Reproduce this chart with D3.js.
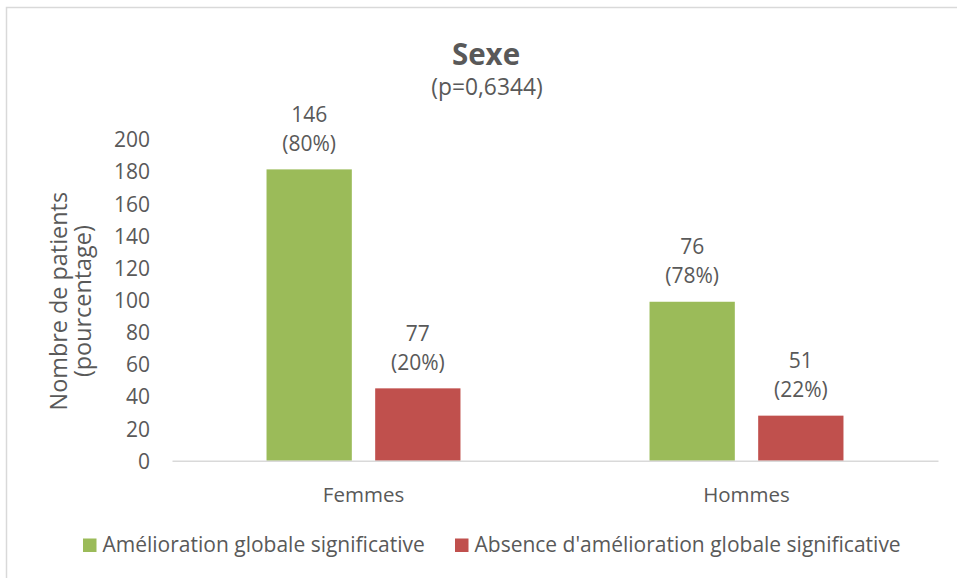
<!DOCTYPE html>
<html><head><meta charset="utf-8">
<script src="https://cdn.jsdelivr.net/npm/d3@7"></script>
<style>body{margin:0;background:#fff}svg{display:block}text{font-family:"Open Sans",sans-serif;fill:#595959}</style>
</head><body>
<svg id="c" width="957" height="578"></svg>
<script>
const categories = ["Femmes", "Hommes"];
const seriesNames = ["Amélioration globale significative", "Absence d'amélioration globale significative"];
const seriesColors = ["#9BBB59", "#C0504D"];
const barValues = [[181.4, 45.1], [99.0, 28.1]];
const countLabels = [["146", "77"], ["76", "51"]];
const pctLabels = [["(80%)", "(20%)"], ["(78%)", "(22%)"]];
const yTicks = [0, 20, 40, 60, 80, 100, 120, 140, 160, 180, 200];
const title = "Sexe";
const subtitle = "(p=0,6344)";
const yTitle = ["Nombre de patients", "(pourcentage)"];

const svg = d3.select("#c");
svg.append("rect").attr("x", 6.5).attr("y", 7.5).attr("width", 1000).attr("height", 1000)
  .attr("fill", "#fff").attr("stroke", "#D9D9D9").attr("stroke-width", 1.5);

const x0 = d3.scaleBand().domain(categories).range([172, 938]).padding(0);
const x1 = d3.scaleBand().domain([0, 1]).range([0, x0.bandwidth()]).paddingInner(0.215).paddingOuter(0.87);
const y = d3.scaleLinear().domain([0, 200]).range([460.8, 139.5]);

// y axis labels
const yAxis = d3.axisLeft(y).tickValues(yTicks).tickSize(0).tickPadding(0).tickFormat(d3.format("d"));
const ya = svg.append("g").attr("transform", "translate(150,0)").call(yAxis);
ya.select(".domain").remove();
ya.selectAll("text").style("font-size", "21px").attr("fill", "#595959").attr("dy", "0.35em");

// bars
categories.forEach((c, ci) => {
  const g = svg.append("g").attr("transform", `translate(${x0(c)},0)`);
  barValues[ci].forEach((v, si) => {
    const bx = x1(si), bw = x1.bandwidth(), top = y(v);
    g.append("rect").attr("x", bx).attr("y", top).attr("width", bw).attr("height", y(0) - top)
      .attr("fill", seriesColors[si]);
    g.append("text").attr("x", bx + bw / 2).attr("y", top - 47.5).attr("text-anchor", "middle")
      .style("font-size", "21px").text(countLabels[ci][si]);
    g.append("text").attr("x", bx + bw / 2).attr("y", top - 18.5).attr("text-anchor", "middle")
      .style("font-size", "21px").text(pctLabels[ci][si]);
  });
});

// x axis
const xAxis = d3.axisBottom(x0).tickSize(0).tickPadding(0);
const xa = svg.append("g").attr("transform", `translate(0,${y(0)})`).call(xAxis);
xa.select(".domain").attr("stroke", "#D9D9D9").attr("stroke-width", 1.5);
xa.selectAll("text").style("font-size", "20.5px").attr("fill", "#595959").attr("y", 41).attr("dy", 0);

// title
svg.append("text").attr("x", 486).attr("y", 65).attr("text-anchor", "middle")
  .style("font-size", "29.5px").style("font-weight", "bold").text(title);
svg.append("text").attr("x", 487).attr("y", 95).attr("text-anchor", "middle")
  .style("font-size", "22.8px").text(subtitle);

// y title
const yt = svg.append("text").attr("transform", `translate(0,${(y(0) + y(200)) / 2 + 1}) rotate(-90)`)
  .attr("text-anchor", "middle").style("font-size", "23.4px");
yt.append("tspan").attr("x", 0).attr("y", 66.7).text(yTitle[0]);
yt.append("tspan").attr("x", 0).attr("y", 91).text(yTitle[1]);

// legend
const legX = [83, 455];
seriesNames.forEach((n, i) => {
  svg.append("rect").attr("x", legX[i]).attr("y", 538.5).attr("width", 13.5).attr("height", 13.5).attr("fill", seriesColors[i]);
  svg.append("text").attr("x", legX[i] + 19.5).attr("y", 551.5).style("font-size", "21px").text(n);
});
</script>
</body></html>
